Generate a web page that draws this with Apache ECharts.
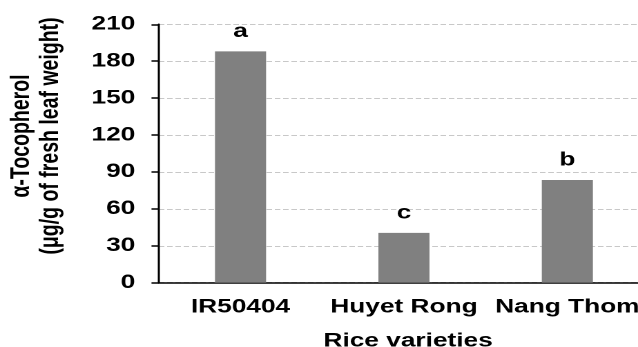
<!DOCTYPE html>
<html>
<head>
<meta charset="utf-8">
<script src="https://cdn.jsdelivr.net/npm/echarts@6/dist/echarts.min.js"></script>
<style>
html,body{margin:0;padding:0;background:#fff;}
#wrap{width:638px;height:347px;overflow:hidden;position:relative;}
#c{width:462px;height:347px;transform:scaleX(1.381);transform-origin:0 0;}
</style>
</head>
<body>
<div id="wrap"><div id="c"></div></div>
<script>
const categories = ['IR50404', 'Huyet Rong', 'Nang Thom'];
const values = [188, 40.5, 83.5];
const letters = ['a', 'c', 'b'];
const yMin = 0, yMax = 210, yStep = 30;
const xTitle = 'Rice varieties';
const yTitle = 'α-Tocopherol\n(μg/g of fresh leaf weight)';

const FONT = '"Liberation Sans", Arial, sans-serif';
const chart = echarts.init(document.getElementById('c'), null, {renderer: 'canvas', devicePixelRatio: 2});
chart.setOption({
  animation: false,
  backgroundColor: '#fff',
  grid: {left: 115, right: -8, top: 24.3, bottom: 64.3, containLabel: false, outerBoundsMode: 'none'},
  xAxis: {
    type: 'category',
    data: categories,
    boundaryGap: true,
    axisLine: {lineStyle: {color: '#000', width: 1.5}},
    axisTick: {show: false},
    axisLabel: {interval: 0, hideOverlap: false, color: '#000', fontFamily: FONT, fontWeight: 'bold', fontSize: 19, margin: 15},
    name: xTitle,
    nameLocation: 'middle',
    nameGap: 49,
    nameTextStyle: {color: '#000', fontFamily: FONT, fontWeight: 'bold', fontSize: 19, verticalAlign: 'top', padding: [0, 0, 0, 6]}
  },
  yAxis: {
    type: 'value',
    min: yMin, max: yMax, interval: yStep,
    axisLine: {show: true, lineStyle: {color: '#000', width: 1.5}},
    axisTick: {show: true, length: 5.3, lineStyle: {color: '#000', width: 1.5}},
    axisLabel: {color: '#000', fontFamily: FONT, fontWeight: 'bold', fontSize: 19, margin: 17},
    splitLine: {show: true, lineStyle: {color: '#c8c8c8', type: [4, 2], width: 1}},
    name: yTitle,
    nameLocation: 'middle',
    nameGap: 68,
    nameTextStyle: {color: '#000', fontFamily: FONT, fontWeight: 'bold', fontSize: 19.5, lineHeight: 21, padding: [0, 0, 0, 35]}
  },
  series: [{
    type: 'bar',
    data: values,
    barWidth: 37,
    itemStyle: {color: '#808080'},
    label: {
      show: true,
      position: 'top',
      distance: 10,
      formatter: p => letters[p.dataIndex],
      color: '#000', fontFamily: FONT, fontWeight: 'bold', fontSize: 19
    }
  }]
});
</script>
</body>
</html>
